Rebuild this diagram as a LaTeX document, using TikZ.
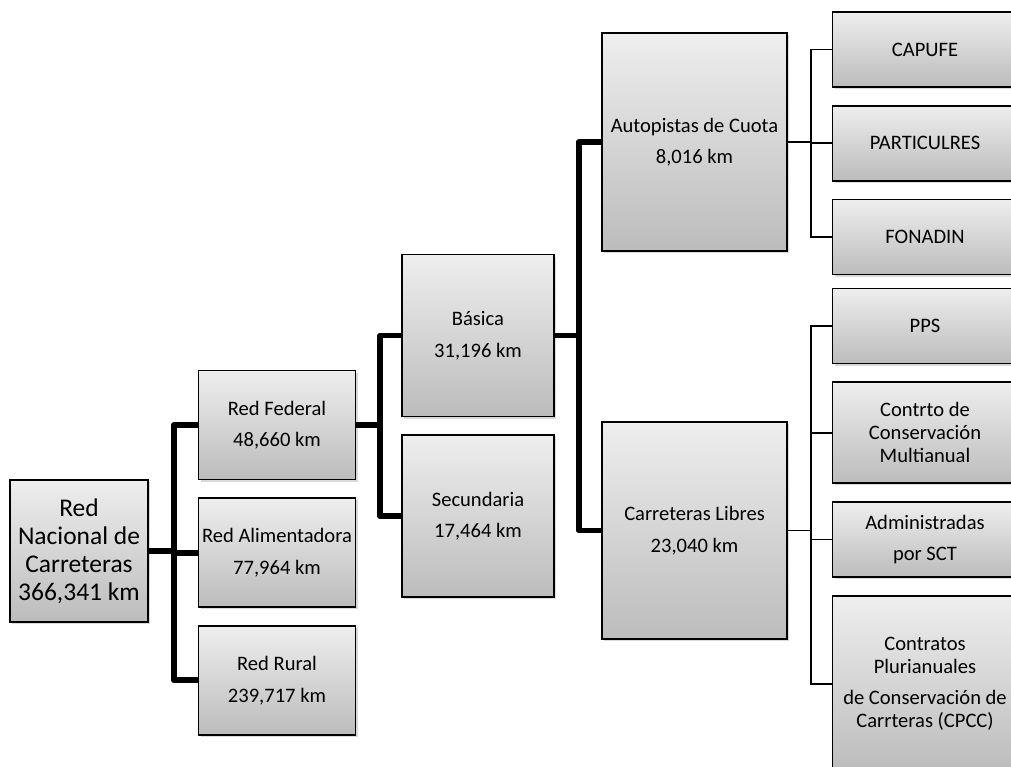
\documentclass[tikz,border=0pt]{standalone}
\usepackage{fontspec}
\setmainfont{Carlito}
\usepackage{tikz}
\usetikzlibrary{positioning,shadows}
\definecolor{boxtop}{RGB}{238,238,238}
\definecolor{boxbot}{RGB}{188,188,188}
\tikzset{
  blk/.style={rectangle,draw=black,line width=1pt,top color=boxtop,bottom color=boxbot,
              drop shadow={shadow xshift=1.2pt,shadow yshift=-1.2pt,opacity=0.3},
              font=\fontsize{11.7}{13}\selectfont,align=center,inner sep=1pt},
  rootblk/.style={blk,font=\fontsize{14.5}{15.9}\selectfont,
              minimum width=2.76cm,minimum height=2.84cm},
  lvlone/.style={blk,minimum width=3.14cm,minimum height=2.18cm},
  lvltwo/.style={blk,minimum width=3.04cm,minimum height=3.24cm},
  lvlthree/.style={blk,minimum width=3.7cm,minimum height=4.35cm},
  leaf/.style={blk,minimum width=3.7cm,minimum height=1.5cm},
  lnk/.style={line width=3.4pt,line join=round},
  lnkthin/.style={line width=1pt},
}
\begin{document}
\begin{tikzpicture}[x=0.02cm,y=-0.02cm,node distance=0.34cm]
  \useasboundingbox (0,0) rectangle (1011,767);
  \clip (0,0) rectangle (1011,767);
  % root and first level
  \node[rootblk](red) at (79,551){Red\\Nacional de\\Carreteras\\366,341 km};
  \node[lvlone](fed) at (277,425){Red Federal\\[5pt]48,660 km};
  \node[lvlone,below=of fed](alim){Red Alimentadora\\[5pt]77,964 km};
  \node[lvlone,below=of alim](rural){Red Rural\\[5pt]239,717 km};
  % second level
  \node[lvltwo](bas) at (478,335.5){Básica\\[5pt]31,196 km};
  \node[lvltwo,below=of bas](sec){Secundaria\\[5pt]17,464 km};
  % third level
  \node[lvlthree](autop) at (694.5,142){Autopistas de Cuota\\[5pt]8,016 km};
  \node[lvlthree](libres) at (694.5,530.5){Carreteras Libres\\[5pt]23,040 km};
  % leaves
  \node[leaf](capufe) at (925,49.5){CAPUFE};
  \node[leaf,below=of capufe](partic){PARTICULRES};
  \node[leaf,below=of partic](fonadin){FONADIN};
  \node[leaf](pps) at (925,326){PPS};
  \node[leaf,minimum height=2.02cm,below=of pps](contrto){Contrto de\\Conservación\\Multianual};
  \node[leaf,below=of contrto](admin){Administradas\\[5pt]por SCT};
  \node[leaf,minimum height=3.52cm,below=of admin](cpcc){Contratos\\Plurianuales\\[5pt]de Conservación de\\Carrteras (CPCC)};
  % connectors
  \foreach \c in {fed,alim,rural}
    \draw[lnk](red.east)--++(25,0)|-(\c.west);
  \foreach \c in {bas,sec}
    \draw[lnk](fed.east)--++(24,0)|-(\c.west);
  \foreach \c in {autop,libres}
    \draw[lnk](bas.east)--++(24,0)|-(\c.west);
  \foreach \c in {capufe,partic,fonadin}
    \draw[lnkthin](autop.east)--++(23,0)|-(\c.west);
  \foreach \c in {pps,contrto,admin,cpcc}
    \draw[lnkthin](libres.east)--++(23,0)|-(\c.west);
\end{tikzpicture}
\end{document}
